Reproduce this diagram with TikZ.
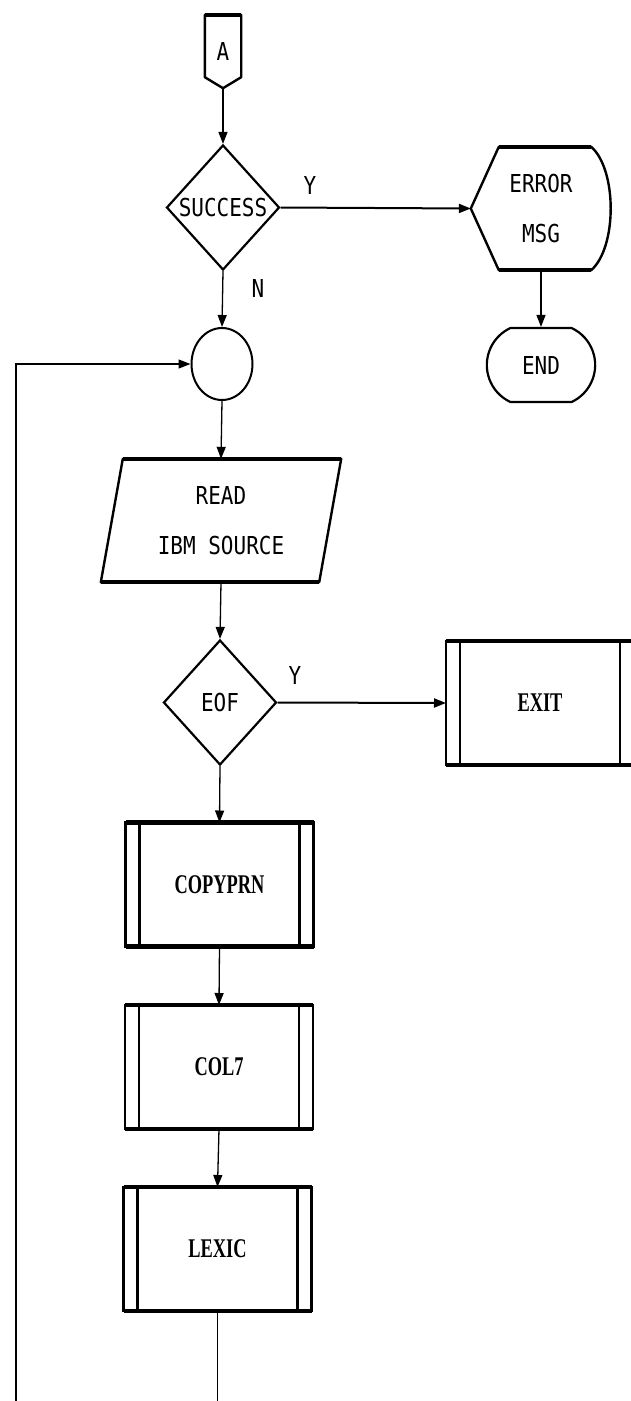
\documentclass[tikz,border=0pt]{standalone}
\usepackage{fontspec}
\usetikzlibrary{arrows.meta, shapes.geometric, shapes.misc}
\newfontfamily\plotfont[FakeStretch=0.85]{DejaVu Sans Mono}
\newfontfamily\progfont[FakeStretch=0.68]{Liberation Serif}

\tikzset{
  plottext/.style={font=\plotfont\fontsize{24.7}{50}\selectfont},
  progtext/.style={font=\progfont\bfseries\fontsize{27}{32}\selectfont},
  decision/.style={diamond, draw, line width=2.2pt, inner sep=0pt, minimum width=113pt, minimum height=125pt, plottext},
  subproc/.style={rectangle, draw, line width=2.8pt, outer sep=0pt, minimum width=188pt, minimum height=124pt, progtext},
  shell/.style={inner sep=0pt, plottext}, % outline drawn by hand
  outline/.style={line width=2.4pt, line join=round},
  flow/.style={->, line width=1.3pt},
}

\begin{document}
\begin{tikzpicture}[x=1pt, y=-1pt, >={Triangle[length=12pt, width=9pt]}]
\useasboundingbox (0,0) rectangle (631,1401);

% off-page connector
\node[shell, minimum width=36pt, minimum height=73pt] (a) at (223,51.5) {A};
\draw[outline] (a.north west) -- ([yshift=11pt]a.south west) -- (a.south) -- ([yshift=11pt]a.south east) -- (a.north east) -- cycle;
\draw[line width=4.5pt] (a.north west) -- (a.north east);

\node[decision] (succ) at (223,207.5) {SUCCESS};

% error message
\node[shell, minimum width=140pt, minimum height=123pt, align=center] (err) at (541,208.5) {ERROR\\MSG};
\draw[outline] (err.west) -- ([xshift=28pt]err.north west) -- ([xshift=-20pt]err.north east)
  .. controls ([xshift=6pt,yshift=-23pt]err.north east) and ([xshift=6pt,yshift=23pt]err.south east) .. ([xshift=-20pt]err.south east)
  -- ([xshift=28pt]err.south west) -- cycle;
\draw[line width=4.5pt] ([xshift=28pt]err.north west) -- ([xshift=-20pt]err.north east)
  ([xshift=28pt]err.south west) -- ([xshift=-20pt]err.south east);

\node[rounded rectangle, rounded rectangle arc length=130, draw, line width=2.2pt, minimum width=115pt, minimum height=74pt, plottext] (stop) at (541,365) {END};

\node[ellipse, draw, line width=2pt, minimum width=61pt, minimum height=72pt] (join) at (222,364) {};

% input
\node[shell, minimum width=240pt, minimum height=123pt, align=center] (read) at (221,520.5) {READ\\IBM SOURCE};
\draw[outline] ([xshift=22pt]read.north west) -- (read.north east) -- ([xshift=-22pt]read.south east) -- (read.south west) -- cycle;
\draw[line width=4.5pt] ([xshift=22pt]read.north west) -- (read.north east)
  (read.south west) -- ([xshift=-22pt]read.south east);

\node[decision] (eof) at (220,702.5) {EOF};

% predefined processes
\node[subproc] (exit) at (540,703) {EXIT};
\node[subproc] (copyprn) at (219.5,884.5) {COPYPRN};
\node[subproc] (col7) at (219,1067) {COL7};
\node[subproc] (lexic) at (217.5,1249) {LEXIC};
\foreach \n in {exit,copyprn,col7,lexic} {
  \draw[line width=2.2pt] ([xshift=14pt]\n.north west) -- ([xshift=14pt]\n.south west)
    ([xshift=-14pt]\n.north east) -- ([xshift=-14pt]\n.south east);
  \draw[line width=4.5pt] (\n.north west) -- (\n.north east) (\n.south west) -- (\n.south east);
}

% labels
\node[plottext] (ysucc) at (310,185) {Y};
\node[plottext] (nsucc) at (258,288) {N};
\node[plottext] (yeof) at (295,675) {Y};

\draw[flow] (a.south) -- (succ.north);
\draw[flow, line width=2pt] (succ.east) -- (err.west);
\draw[flow] (succ.south) -- (join.north);
\draw[flow] (err.south) -- (stop.north);
\draw[flow] (join.south) -- (read.north);
\draw[flow] (read.south) -- (eof.north);
\draw[flow, line width=2pt] (eof.east) -- (exit.west);
\draw[flow] (eof.south) -- (copyprn.north);
\draw[flow] (copyprn.south) -- (col7.north);
\draw[flow] (col7.south) -- (lexic.north);

% loop back
\coordinate (loopfoot) at (16,1401);
\draw[line width=1.3pt] (lexic.south) -- (lexic.south |- loopfoot);
\draw[flow] (loopfoot) |- (join.west);
\end{tikzpicture}
\end{document}
